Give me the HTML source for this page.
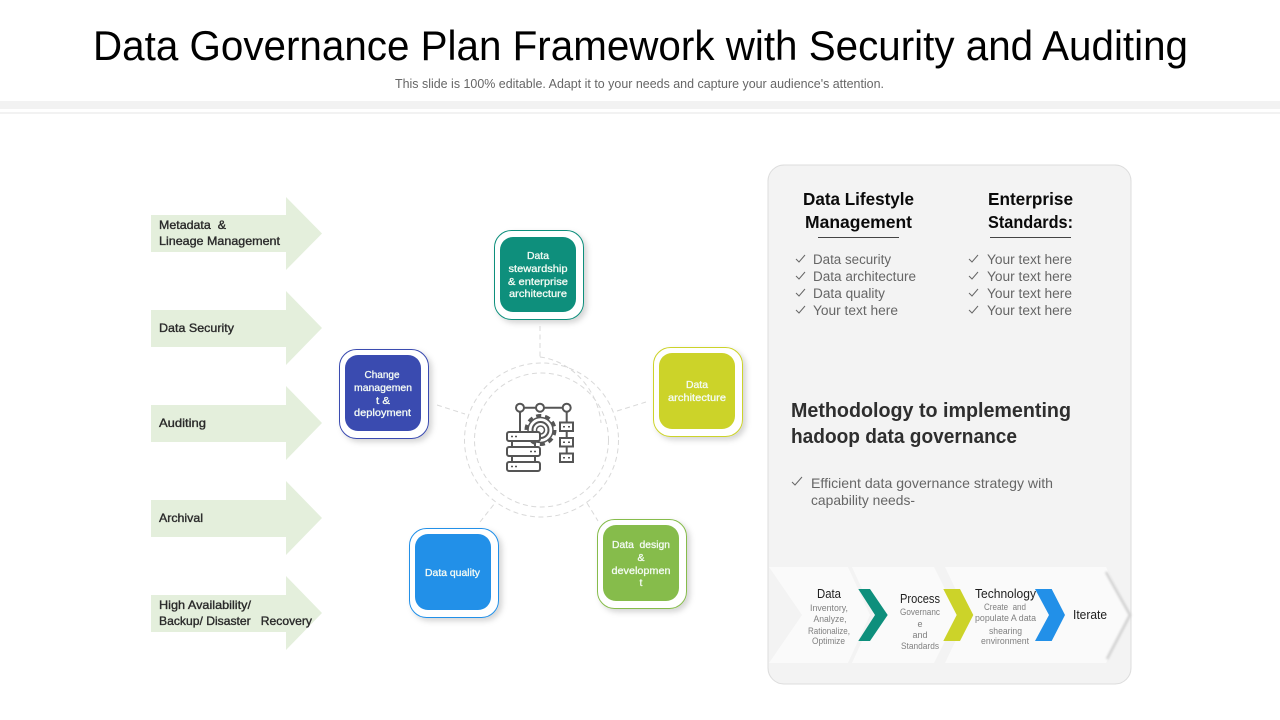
<!DOCTYPE html>
<html><head><meta charset="utf-8"><style>
html,body{margin:0;padding:0;background:#fff;width:1280px;height:720px;overflow:hidden}
svg{display:block}
text{font-family:"Liberation Sans",sans-serif}
.l{font-size:12px;fill:#2a2a2a;stroke:#2a2a2a;stroke-width:.35px}
.n{font-size:10.5px;fill:#f4fbf4;stroke:#f4fbf4;stroke-width:.3px;text-anchor:middle}
.h{font-size:17.5px;font-weight:bold;fill:#0a0a0a;text-anchor:middle}
.li{font-size:13.5px;fill:#666}
.m{font-size:20px;font-weight:bold;fill:#2e2e2e}
.e{font-size:14px;fill:#666}
.s{font-size:9px;fill:#808080;text-anchor:middle}
.t{font-size:12.5px;fill:#1e1e1e;text-anchor:middle}
.c{fill:none;stroke:#666;stroke-width:1}
.d{fill:none;stroke:#d9d9d9;stroke-width:1;stroke-dasharray:5 3.500}
.i{fill:#fff;stroke:#555;stroke-width:2}
</style></head><body>
<svg width="1280" height="720" viewBox="0 0 1280 720" xmlns="http://www.w3.org/2000/svg">
<defs>
<filter id="sh" x="-20%" y="-20%" width="150%" height="150%"><feDropShadow dx="3" dy="3" stdDeviation="3" flood-color="#000" flood-opacity=".17"/></filter>
<filter id="sb" x="-20%" y="-20%" width="140%" height="140%"><feGaussianBlur stdDeviation="1"/></filter>
</defs>
<text x="93" y="60" font-size="42" fill="#000" textLength="1095" lengthAdjust="spacingAndGlyphs">Data Governance Plan Framework with Security and Auditing</text>
<text x="395" y="88" font-size="12.5" fill="#666" textLength="489" lengthAdjust="spacingAndGlyphs">This slide is 100% editable. Adapt it to your needs and capture your audience's attention.</text>
<rect x="0" y="101" width="1280" height="8" fill="#f2f2f2"/>
<rect x="0" y="112" width="1280" height="2" fill="#f2f2f2"/>

<!-- left arrows -->
<g fill="#e4efdc">
<polygon points="151,215 286,215 286,197 322,233.5 286,270 286,252 151,252"/>
<polygon points="151,310 286,310 286,291 322,328 286,365 286,347 151,347"/>
<polygon points="151,405 286,405 286,386 322,423 286,460 286,442 151,442"/>
<polygon points="151,500 286,500 286,481 322,518 286,555 286,537 151,537"/>
<polygon points="151,595 286,595 286,576 322,613 286,650 286,632 151,632"/>
</g>
<text class="l" x="159" y="229" textLength="67" lengthAdjust="spacingAndGlyphs" xml:space="preserve">Metadata  &amp;</text>
<text class="l" x="159" y="245" textLength="121" lengthAdjust="spacingAndGlyphs">Lineage Management</text>
<text class="l" x="159" y="332" textLength="75" lengthAdjust="spacingAndGlyphs">Data Security</text>
<text class="l" x="159" y="427" textLength="47" lengthAdjust="spacingAndGlyphs">Auditing</text>
<text class="l" x="159" y="522" textLength="44" lengthAdjust="spacingAndGlyphs">Archival</text>
<text class="l" x="159" y="609" textLength="92" lengthAdjust="spacingAndGlyphs">High Availability/</text>
<text class="l" x="159" y="625" textLength="153" lengthAdjust="spacingAndGlyphs" xml:space="preserve">Backup/ Disaster   Recovery</text>

<!-- rings and connectors -->
<circle class="d" cx="541.5" cy="440" r="77"/>
<circle class="d" cx="541.5" cy="440" r="67"/>
<path class="d" d="M540 357C572 361 598 390 601 423"/>
<path class="d" d="M540 326V357M437 405L465 414M617 411L646 402M480 522L495 503M587 503L598 521"/>

<!-- nodes -->
<g>
<rect x="494.500" y="230.500" width="89" height="89" rx="17" fill="#fff" stroke="#0e8f7c" filter="url(#sh)"/>
<rect x="500" y="237" width="76" height="75" rx="13" fill="#0e8f7c"/>
<rect x="339.500" y="349.500" width="89" height="89" rx="17" fill="#fff" stroke="#3a4bb0" filter="url(#sh)"/>
<rect x="345" y="355" width="76" height="76" rx="13" fill="#3a4bb0"/>
<rect x="653.500" y="347.500" width="89" height="89" rx="17" fill="#fff" stroke="#ccd329" filter="url(#sh)"/>
<rect x="659" y="353" width="76" height="76" rx="13" fill="#ccd329"/>
<rect x="597.500" y="519.500" width="89" height="89" rx="17" fill="#fff" stroke="#86bc4b" filter="url(#sh)"/>
<rect x="603" y="525" width="76" height="76" rx="13" fill="#86bc4b"/>
<rect x="409.500" y="528.500" width="89" height="89" rx="17" fill="#fff" stroke="#2290e8" filter="url(#sh)"/>
<rect x="415" y="534" width="76" height="76" rx="13" fill="#2290e8"/>
</g>
<text class="n" x="538" y="259" textLength="22" lengthAdjust="spacingAndGlyphs">Data</text>
<text class="n" x="538" y="272" textLength="59" lengthAdjust="spacingAndGlyphs">stewardship</text>
<text class="n" x="538" y="285" textLength="60" lengthAdjust="spacingAndGlyphs">&amp; enterprise</text>
<text class="n" x="538" y="297" textLength="58" lengthAdjust="spacingAndGlyphs">architecture</text>
<text class="n" x="382" y="378" textLength="35" lengthAdjust="spacingAndGlyphs">Change</text>
<text class="n" x="383" y="391" textLength="58" lengthAdjust="spacingAndGlyphs">managemen</text>
<text class="n" x="383" y="404" textLength="14" lengthAdjust="spacingAndGlyphs">t &amp;</text>
<text class="n" x="382.500" y="416" textLength="57" lengthAdjust="spacingAndGlyphs">deployment</text>
<text class="n" x="697" y="388" textLength="22" lengthAdjust="spacingAndGlyphs">Data</text>
<text class="n" x="697" y="401" textLength="58" lengthAdjust="spacingAndGlyphs">architecture</text>
<text class="n" x="641" y="548" textLength="58" lengthAdjust="spacingAndGlyphs" xml:space="preserve">Data  design</text>
<text class="n" x="641" y="561">&amp;</text>
<text class="n" x="641" y="574" textLength="59" lengthAdjust="spacingAndGlyphs">developmen</text>
<text class="n" x="641" y="586">t</text>
<text class="n" x="452.500" y="576" textLength="55" lengthAdjust="spacingAndGlyphs">Data quality</text>

<!-- centre icon -->
<g>
<path d="M524 407.700H536M544 407.700H562.700M520 411.700V432M566.700 411.700V422M566.700 431V438M566.700 446V453.500" fill="none" stroke="#555" stroke-width="2"/>
<circle class="i" cx="520" cy="407.700" r="4"/>
<circle class="i" cx="540" cy="407.700" r="4"/>
<circle class="i" cx="566.700" cy="407.700" r="4"/>
<rect class="i" x="560" y="422.500" width="13" height="8.500"/>
<rect class="i" x="560" y="438" width="13" height="8.500"/>
<rect class="i" x="560" y="453.500" width="13" height="8.500"/>
<circle cx="540.500" cy="430" r="14" fill="none" stroke="#555" stroke-width="4" stroke-dasharray="5 3.800"/>
<circle cx="540.500" cy="430" r="12.500" fill="#fff" stroke="#555" stroke-width="1.500"/>
<circle cx="540.500" cy="430" r="8" fill="#fff" stroke="#555" stroke-width="2"/>
<circle cx="540.500" cy="430" r="4" fill="#fff" stroke="#555" stroke-width="1.500"/>
<path d="M512 441V447M535 441V447M512 456V462M535 456V462" stroke="#555" stroke-width="2"/>
<rect class="i" x="507" y="432" width="33" height="9" rx="2"/>
<rect class="i" x="507" y="447" width="33" height="9" rx="2"/>
<rect class="i" x="507" y="462" width="33" height="9" rx="2"/>
<path d="M511 436.500h2M515 436.500h2M530 451.500h2M534 451.500h2M511 466.500h2M515 466.500h2M563 426.700h2M568 426.700h2M563 442.200h2M568 442.200h2M563 457.700h2M568 457.700h2" stroke="#555" stroke-width="1.500" fill="none"/>
</g>

<!-- panel -->
<rect x="768" y="165" width="363" height="519" rx="16" fill="#f3f3f3" stroke="#dcdcdc"/>
<text class="h" x="858.500" y="205" textLength="111" lengthAdjust="spacingAndGlyphs">Data Lifestyle</text>
<text class="h" x="858.500" y="228" textLength="107" lengthAdjust="spacingAndGlyphs">Management</text>
<text class="h" x="1030.500" y="205" textLength="85" lengthAdjust="spacingAndGlyphs">Enterprise</text>
<text class="h" x="1030.500" y="228" textLength="85" lengthAdjust="spacingAndGlyphs">Standards:</text>
<path d="M818 237.500H899M990 237.500H1071" stroke="#444" stroke-width="1"/>

<path class="c" d="M796 259l3 3 6-7M796 276l3 3 6-7M796 293l3 3 6-7M796 310l3 3 6-7M969 259l3 3 6-7M969 276l3 3 6-7M969 293l3 3 6-7M969 310l3 3 6-7M792 482l3 3 7-8"/>
<text class="li" x="813" y="264" textLength="78" lengthAdjust="spacingAndGlyphs">Data security</text>
<text class="li" x="813" y="281" textLength="103" lengthAdjust="spacingAndGlyphs">Data architecture</text>
<text class="li" x="813" y="298" textLength="72" lengthAdjust="spacingAndGlyphs">Data quality</text>
<text class="li" x="813" y="315" textLength="85" lengthAdjust="spacingAndGlyphs">Your text here</text>
<text class="li" x="987" y="264" textLength="85" lengthAdjust="spacingAndGlyphs">Your text here</text>
<text class="li" x="987" y="281" textLength="85" lengthAdjust="spacingAndGlyphs">Your text here</text>
<text class="li" x="987" y="298" textLength="85" lengthAdjust="spacingAndGlyphs">Your text here</text>
<text class="li" x="987" y="315" textLength="85" lengthAdjust="spacingAndGlyphs">Your text here</text>

<text class="m" x="791" y="417" textLength="280" lengthAdjust="spacingAndGlyphs">Methodology to implementing</text>
<text class="m" x="791" y="443" textLength="226" lengthAdjust="spacingAndGlyphs">hadoop data governance</text>
<text class="e" x="811" y="488" textLength="242" lengthAdjust="spacingAndGlyphs">Efficient data governance strategy with</text>
<text class="e" x="811" y="505" textLength="104" lengthAdjust="spacingAndGlyphs">capability needs-</text>

<!-- process strip -->
<polygon points="769,567 848,567 870,615 848,663 769,663 802,615" fill="#fafafa"/>
<polygon points="852,567 934,567 958,615 934,663 852,663 874,615" fill="#fafafa"/>
<polygon points="945,567 1106,567 1130,615 1106,663 945,663 968,615" fill="#fafafa"/>
<polyline points="1106,572 1130,615 1107,659" fill="none" stroke="#cfcfcf" stroke-width="2.500" filter="url(#sb)"/>
<polygon points="858.300,589 870,589 887.700,615 870,641 858.300,641 875,615" fill="#0e8f7c"/>
<polygon points="943.300,589 960,589 973.300,615 960,641 943.300,641 956.700,615" fill="#ccd329"/>
<polygon points="1035,589 1051.700,589 1065,615 1051.700,641 1035,641 1049,615" fill="#2290e8"/>

<text class="t" x="829" y="598" textLength="24" lengthAdjust="spacingAndGlyphs">Data</text>
<text class="s" x="829" y="611" textLength="38" lengthAdjust="spacingAndGlyphs">Inventory,</text>
<text class="s" x="830" y="622" textLength="33" lengthAdjust="spacingAndGlyphs">Analyze,</text>
<text class="s" x="829" y="634" textLength="42" lengthAdjust="spacingAndGlyphs">Rationalize,</text>
<text class="s" x="828.500" y="644" textLength="33" lengthAdjust="spacingAndGlyphs">Optimize</text>
<text class="t" x="920" y="603" textLength="40" lengthAdjust="spacingAndGlyphs">Process</text>
<text class="s" x="920" y="615" textLength="40" lengthAdjust="spacingAndGlyphs">Governanc</text>
<text class="s" x="920" y="627">e</text>
<text class="s" x="920" y="638">and</text>
<text class="s" x="920" y="649" textLength="38" lengthAdjust="spacingAndGlyphs">Standards</text>
<text class="t" x="1005.500" y="598" textLength="61" lengthAdjust="spacingAndGlyphs">Technology</text>
<text class="s" x="1005" y="610" textLength="42" lengthAdjust="spacingAndGlyphs" xml:space="preserve">Create  and</text>
<text class="s" x="1005.500" y="621" textLength="61" lengthAdjust="spacingAndGlyphs">populate A data</text>
<text class="s" x="1005.500" y="634" textLength="33" lengthAdjust="spacingAndGlyphs">shearing</text>
<text class="s" x="1005" y="644" textLength="48" lengthAdjust="spacingAndGlyphs">environment</text>
<text class="t" x="1090" y="619" textLength="34" lengthAdjust="spacingAndGlyphs">Iterate</text>
</svg>
</body></html>
